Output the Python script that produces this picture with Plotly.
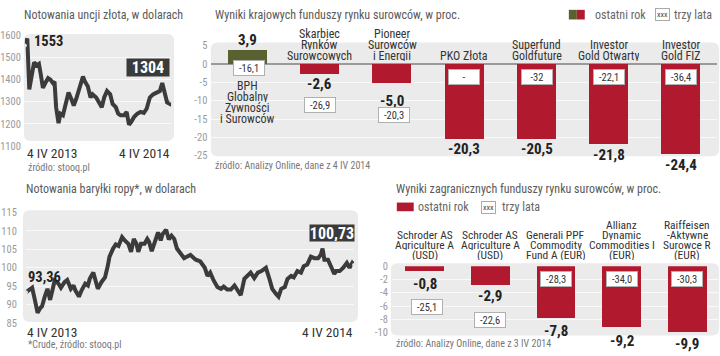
import plotly.graph_objects as go
import pandas as pd

# ---------------- data ----------------
gold_days = [0, 6, 11, 17, 23, 29, 35, 40, 45, 51, 58, 64, 70, 74, 78, 84, 89, 95, 101, 109,
             116, 122, 128, 136, 145, 150, 157, 164, 169, 178, 186, 192, 198, 205, 213, 219, 227, 233, 239, 248,
             254, 260, 266, 273, 281, 289, 297, 304, 312, 320, 329, 337, 343, 348, 355, 362, 365]
gold_values = [1553, 1585, 1355, 1420, 1478, 1464, 1471, 1420, 1362, 1384, 1406, 1399, 1384, 1391, 1275, 1203, 1246, 1239, 1283, 1341,
               1312, 1283, 1312, 1362, 1413, 1391, 1370, 1319, 1333, 1319, 1297, 1275, 1319, 1348, 1333, 1290, 1275, 1246, 1239, 1239,
               1254, 1196, 1210, 1232, 1246, 1254, 1249, 1268, 1319, 1333, 1341, 1348, 1384, 1341, 1297, 1290, 1304]

oil_days = [0, 5, 7, 10, 13, 16, 18, 21, 24, 27, 30, 32, 36, 39, 43, 46, 50, 53, 55, 59,
            62, 66, 69, 71, 75, 77, 80, 84, 88, 91, 93, 97, 100, 103, 107, 110, 114, 117, 120, 123,
            125, 128, 132, 135, 137, 140, 144, 147, 150, 152, 156, 159, 162, 165, 168, 172, 176, 179, 183, 187,
            189, 194, 199, 202, 205, 209, 213, 217, 220, 224, 228, 232, 236, 239, 243, 247, 250, 254, 258, 262,
            267, 271, 274, 278, 281, 284, 288, 291, 295, 298, 302, 306, 309, 313, 317, 321, 325, 328, 330, 332,
            336, 340, 343, 345, 349, 353, 357, 360, 363, 365]
oil_values = [93.36, 94.1, 94.6, 91.3, 87.8, 89.1, 89.6, 92.2, 94.3, 91.3, 95.2, 96.5, 95.8, 94.6, 96.1, 96.7, 94.3, 95.2, 93.9, 92.2,
              93.9, 95.7, 95.2, 97.0, 98.7, 96.5, 94.3, 96.1, 97.4, 100.4, 103.0, 105.2, 106.3, 105.9, 108.3, 107.4, 106.5, 104.3, 107.8, 106.5,
              104.3, 106.5, 106.5, 107.8, 107.0, 104.5, 107.4, 109.6, 107.4, 109.1, 110.3, 107.7, 108.7, 107.8, 105.2, 103.9, 102.6, 103.0, 103.5, 102.6,
              102.2, 101.7, 100.0, 97.8, 98.7, 96.5, 94.8, 94.3, 94.9, 94.1, 94.1, 95.2, 93.9, 92.6, 97.0, 97.8, 98.7, 97.2, 98.7, 99.1,
              100.0, 96.9, 94.3, 93.0, 92.2, 94.3, 94.8, 97.0, 97.8, 97.4, 99.1, 98.7, 100.4, 100.9, 103.0, 102.6, 102.6, 103.5, 105.2, 102.2,
              102.2, 100.0, 98.3, 99.1, 99.1, 100.0, 101.3, 100.0, 101.3, 100.73]

date_start = "2013-04-04"
date_labels = ["4 IV 2013", "4 IV 2014"]
gold_first_label, gold_last_label = "1553", "1304"
oil_first_label, oil_last_label = "93,36", "100,73"

dom_funds = ["BPH|Globalny|Żywności|i Surowców", "Skarbiec|Rynków|Surowcowych", "Pioneer|Surowców|i Energii",
             "PKO Złota", "Superfund|Goldfuture", "Investor|Gold Otwarty", "Investor|Gold FIZ"]
dom_last_year = [3.9, -2.6, -5.0, -20.3, -20.5, -21.8, -24.4]
dom_three_years = ["-16,1", "-26,9", "-20,3", "-", "-32", "-22,1", "-36,4"]
dom_ticks = [5, 0, -5, -10, -15, -20, -25]

for_funds = ["Schroder AS|Agriculture A|(USD)", "Schroder AS|Agriculture A|(USD)", "Generali PPF|Commodity|Fund A (EUR)",
             "Allianz|Dynamic|Commodities I|(EUR)", "Raiffeisen|-Aktywne|Surowce R|(EUR)"]
for_last_year = [-0.8, -2.9, -7.8, -9.2, -9.9]
for_three_years = ["-25,1", "-22,6", "-28,3", "-34,0", "-30,3"]
for_ticks = [0, -2, -4, -6, -8, -10]

# ---------------- helpers ----------------
W, H = 720, 356
FONT = "'Liberation Sans Narrow', 'Roboto Condensed', 'DejaVu Sans Condensed', sans-serif"
RED = "#b1192f"
GREEN = "#58612f"
LINE = "#3b3b3b"
BG = "#ebebeb"


def px(x):
    return x / W


def py(y):
    return 1 - y / H


def rrect(x0, y0, x1, y1, r, fill, line=None):
    rx, ry = r, r
    p = (f"M {px(x0+rx)},{py(y0)} L {px(x1-rx)},{py(y0)} Q {px(x1)},{py(y0)} {px(x1)},{py(y0+ry)} "
         f"L {px(x1)},{py(y1-ry)} Q {px(x1)},{py(y1)} {px(x1-rx)},{py(y1)} "
         f"L {px(x0+rx)},{py(y1)} Q {px(x0)},{py(y1)} {px(x0)},{py(y1-ry)} "
         f"L {px(x0)},{py(y0+ry)} Q {px(x0)},{py(y0)} {px(x0+rx)},{py(y0)} Z")
    return dict(type="path", path=p, xref="paper", yref="paper", fillcolor=fill,
                line=dict(color=line or fill, width=1 if line else 0), layer="below")


def T(x, y, text, size=11, color="#333", xanchor="left", **kw):
    d = dict(xref="paper", yref="paper", x=px(x), y=py(y), text=text, showarrow=False,
             xanchor=xanchor, yanchor="middle", font=dict(size=size, color=color, family=FONT))
    d.update(kw)
    return d


def fmt(v):
    return f"{v:.1f}".replace(".", ",")


start = pd.Timestamp(date_start)
gold_dates = [start + pd.Timedelta(days=d) for d in gold_days]
oil_dates = [start + pd.Timedelta(days=d) for d in oil_days]
end = start + pd.Timedelta(days=365)

fig = go.Figure()

fig.add_trace(go.Scatter(x=gold_dates, y=gold_values, mode="lines", line=dict(color=LINE, width=4),
                         xaxis="x", yaxis="y", hoverinfo="skip"))
fig.add_trace(go.Scatter(x=[gold_dates[0], gold_dates[-1]], y=[gold_values[0], gold_values[-1]], mode="markers",
                         marker=dict(size=4, color="#e6e6e6"), xaxis="x", yaxis="y", hoverinfo="skip"))
fig.add_trace(go.Bar(x=list(range(len(dom_last_year))), y=dom_last_year,
                     marker=dict(color=[GREEN if v > 0 else RED for v in dom_last_year], line=dict(width=0)),
                     width=0.54, xaxis="x2", yaxis="y2", hoverinfo="skip"))
fig.add_trace(go.Scatter(x=oil_dates, y=oil_values, mode="lines", line=dict(color=LINE, width=4),
                         xaxis="x3", yaxis="y3", hoverinfo="skip"))
fig.add_trace(go.Scatter(x=[oil_dates[0], oil_dates[-1]], y=[oil_values[0], oil_values[-1]], mode="markers",
                         marker=dict(size=4, color="#e6e6e6"), xaxis="x3", yaxis="y3", hoverinfo="skip"))
fig.add_trace(go.Bar(x=list(range(len(for_last_year))), y=for_last_year,
                     marker=dict(color=RED, line=dict(width=0)),
                     width=0.59, xaxis="x4", yaxis="y4", hoverinfo="skip"))

tickfont = dict(size=10.5, color="#9a9a9a", family=FONT)
GRID = "#f9f9f9"
hidden_x = dict(visible=False, showgrid=False, zeroline=False)

fig.update_layout(
    width=W, height=H, margin=dict(l=0, r=0, t=0, b=0), showlegend=False,
    paper_bgcolor="white", plot_bgcolor="rgba(0,0,0,0)", bargap=0,
    xaxis=dict(domain=[px(21), px(168)], range=[start, end], anchor="y", **hidden_x),
    yaxis=dict(domain=[py(145.3), py(30.3)], range=[1100, 1600], anchor="x", tickvals=[1100, 1200, 1300, 1400, 1500, 1600],
               tickfont=tickfont, gridcolor=GRID, gridwidth=1, zeroline=False, showline=False, ticklabelstandoff=3),
    xaxis2=dict(domain=[px(208.5), px(717.4)], range=[-0.5, 6.5], anchor="y2", **hidden_x),
    yaxis2=dict(domain=[py(155.3), py(41.3)], range=[-25, 5], anchor="x2", tickvals=dom_ticks,
                ticktext=[str(t) for t in dom_ticks], tickfont=tickfont, gridcolor=GRID, gridwidth=1,
                zeroline=True, zerolinecolor="#9a9a9a", zerolinewidth=1.5, showline=False, ticklabelstandoff=3),
    xaxis3=dict(domain=[px(22), px(352)], range=[start, end], anchor="y3", **hidden_x),
    yaxis3=dict(domain=[py(329.2), py(214.2)], range=[85, 115], anchor="x3", tickvals=[85, 90, 95, 100, 105, 110, 115],
                tickfont=tickfont, gridcolor=GRID, gridwidth=1, zeroline=False, showline=False, ticklabelstandoff=8),
    xaxis4=dict(domain=[px(390), px(720)], range=[-0.5, 4.5], anchor="y4", **hidden_x),
    yaxis4=dict(domain=[py(339), py(270)], range=[-10, 0], anchor="x4", tickvals=for_ticks,
                ticktext=[str(t) for t in for_ticks], tickfont=tickfont, gridcolor=GRID, gridwidth=1,
                zeroline=False, showline=False, ticklabelstandoff=3),
)

shapes = [
    rrect(20, 29, 171, 140, 7, BG),
    rrect(208, 38, 719, 156, 7, BG),
    rrect(19, 212, 356, 328, 7, BG),
    rrect(389, 267, 719, 342, 7, BG),
]
shapes.append(dict(type="rect", xref="paper", yref="paper", x0=px(568), x1=px(576), y0=py(14), y1=py(4),
                   fillcolor=GREEN, line=dict(width=0)))
shapes.append(dict(type="rect", xref="paper", yref="paper", x0=px(576), x1=px(584), y0=py(14), y1=py(4),
                   fillcolor=RED, line=dict(width=0)))
shapes.append(dict(type="rect", xref="paper", yref="paper", x0=px(395), x1=px(412), y0=py(213), y1=py(204),
                   fillcolor=RED, line=dict(width=0)))
fig.update_layout(shapes=shapes)

ann = []
TITLE_C = "#5a5a5a"
ann.append(T(18, 9, "Notowania uncji złota, w dolarach", 12, TITLE_C))
ann.append(T(210, 9, "Wyniki krajowych funduszy rynku surowców, w proc.", 12, TITLE_C))
ann.append(T(20, 190, "Notowania baryłki ropy*, w dolarach", 12, TITLE_C))
ann.append(T(392, 190, "Wyniki zagranicznych funduszy rynku surowców, w proc.", 12, TITLE_C))
SRC_C = "#777"
ann.append(T(22, 168, "źródło: stooq.pl", 10, SRC_C))
ann.append(T(210, 166, "źródło: Analizy Online, dane z 4 IV 2014", 10, SRC_C))
ann.append(T(22, 351, "*Crude, źródło: stooq.pl", 10, SRC_C))
ann.append(T(392, 350, "źródło: Analizy Online, dane z 3 IV 2014", 10, SRC_C))
LEG_C = "#666"
ann.append(T(592, 9, "ostatni rok", 12, LEG_C))
ann.append(T(662, 8.5, "xxx", 8, "#444", xanchor="center", bgcolor="white", bordercolor="#aaa",
             borderwidth=1, borderpad=1))
ann.append(T(672, 9, "trzy lata", 12, LEG_C))
ann.append(T(414, 209, "ostatni rok", 12, LEG_C))
ann.append(T(487, 209, "xxx", 8, "#444", xanchor="center", bgcolor="white", bordercolor="#aaa",
             borderwidth=1, borderpad=1))
ann.append(T(499, 209, "trzy lata", 12, LEG_C))
DC = "#333"
ann.append(T(21, 153, date_labels[0], 13.5, DC))
ann.append(T(169, 153, date_labels[1], 13.5, DC, xanchor="right"))
ann.append(T(21, 338, date_labels[0], 13.5, DC))
ann.append(T(353, 338, date_labels[1], 13.5, DC, xanchor="right"))
ann.append(dict(xref="x", yref="y", x=gold_dates[0], y=gold_values[0], text=f"<b>{gold_first_label}</b>",
                showarrow=False, xanchor="left", yanchor="middle", xshift=7, yshift=4,
                font=dict(size=14.5, color="#222", family=FONT)))
ann.append(T(145, 64, f"<b>{gold_last_label}</b>", 16, "white", xanchor="center", bgcolor="#3a3a3a",
             width=42, height=17, borderpad=0))
ann.append(dict(xref="x3", yref="y3", x=oil_dates[0], y=oil_values[0], text=f"<b>{oil_first_label}</b>",
                showarrow=False, xanchor="left", yanchor="middle", xshift=0, yshift=15,
                font=dict(size=14.5, color="#222", family=FONT)))
ann.append(T(330, 236, f"<b>{oil_last_label}</b>", 16, "white", xanchor="center", bgcolor="#3a3a3a",
             width=44, height=16, borderpad=0))

VAL_C = "#222"
LBL_C = "#333"
dom_val_shift = [10, -10.5, -18.5, -11, -9.5, -11, -12]
dom_box_y = [-1.0, -11.2, -14.0, -3.4, -3.6, -3.6, -3.6]
dom_box_dx = [2, 0, 2, 0, 0, 0, 0]
for i, v in enumerate(dom_last_year):
    ann.append(dict(xref="x2", yref="y2", x=i, y=v, text=f"<b>{fmt(v)}</b>", showarrow=False,
                    xanchor="center", yanchor="middle", yshift=dom_val_shift[i],
                    font=dict(size=15, color=VAL_C, family=FONT)))
    ann.append(dict(xref="x2", yref="y2", x=i, y=dom_box_y[i], text=dom_three_years[i], showarrow=False,
                    xanchor="center", yanchor="middle", xshift=dom_box_dx[i], bgcolor="white", bordercolor="#b0b0b0",
                    borderwidth=1, borderpad=2, width=26, height=10,
                    font=dict(size=10.5, color="#333", family=FONT)))
    lines = dom_funds[i].split("|")
    n = len(lines)
    for k, t in enumerate(lines):
        if v > 0:
            yy = 83 + k * 11.4
        else:
            yy = 51 - (n - 1 - k) * 11.4
        ann.append(dict(xref="x2", yref="paper", x=i, y=py(yy), text=t, showarrow=False, xanchor="center",
                        yanchor="middle", height=11, font=dict(size=12, color=LBL_C, family=FONT)))

for_val_shift = [-12.5, -11, -13, -13.5, -12]
for_box_y = [-6.1, -8.1, -1.9, -1.9, -1.9]
for_box_dx = [2, 0, 0, 0, 0]
for i, v in enumerate(for_last_year):
    ann.append(dict(xref="x4", yref="y4", x=i, y=v, text=f"<b>{fmt(v)}</b>", showarrow=False,
                    xanchor="center", yanchor="middle", yshift=for_val_shift[i],
                    font=dict(size=15, color=VAL_C, family=FONT)))
    ann.append(dict(xref="x4", yref="y4", x=i, y=for_box_y[i], text=for_three_years[i], showarrow=False,
                    xanchor="center", yanchor="middle", xshift=for_box_dx[i], bgcolor="white", bordercolor="#b0b0b0",
                    borderwidth=1, borderpad=2, width=26, height=10,
                    font=dict(size=10.5, color="#333", family=FONT)))
    lines = for_funds[i].split("|")
    n = len(lines)
    for k, t in enumerate(lines):
        yy = 258 - (n - 1 - k) * 10.4
        ann.append(dict(xref="x4", yref="paper", x=i, y=py(yy), text=t, showarrow=False, xanchor="center",
                        yanchor="middle", height=10, font=dict(size=11.5, color=LBL_C, family=FONT)))

fig.update_layout(annotations=ann)
fig.write_html("out.html", config={"displayModeBar": False},
               post_script="document.body.style.margin='0px';")
